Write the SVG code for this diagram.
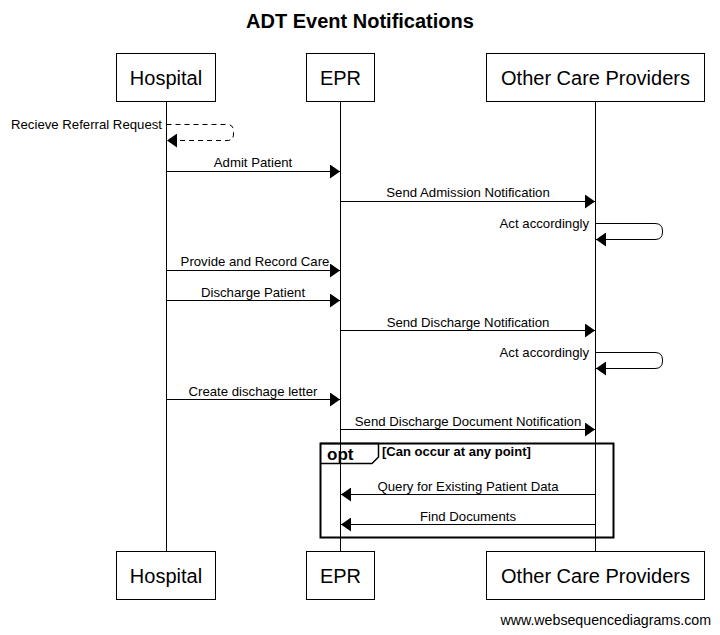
<svg xmlns="http://www.w3.org/2000/svg" width="720" height="635" viewBox="0 0 720 635">
<style>
.box{fill:#fff;stroke:#000;stroke-width:1}
.pt{font-family:"Liberation Sans",Arial,sans-serif;font-size:20px;text-anchor:middle}
.life{stroke:#000;stroke-width:1}
.msg{fill:none;stroke:#000;stroke-width:1}
.dash{stroke-dasharray:5,4}
.ml{font-family:"Liberation Sans",Arial,sans-serif;font-size:13.2px}
.c{text-anchor:middle}
.e{text-anchor:end}
</style>
<defs>
<marker id="ah" markerWidth="10" markerHeight="14" refX="10" refY="7" orient="auto" markerUnits="userSpaceOnUse">
<path d="M0,0 L10,7 L0,14 Z" fill="#000"/>
</marker>
</defs>
<rect width="720" height="635" fill="#fff"/>
<text x="360" y="28" font-family="Liberation Sans,Arial,sans-serif" font-size="20" font-weight="bold" text-anchor="middle">ADT Event Notifications</text>
<g id="lifelines">
<line class="life" x1="166.5" y1="102" x2="166.5" y2="551"/>
<line class="life" x1="340.5" y1="102" x2="340.5" y2="551"/>
<line class="life" x1="595.5" y1="102" x2="595.5" y2="551"/>
</g>
<g id="hospital">
<rect class="box" x="116.5" y="53.5" width="99" height="48"/>
<text class="pt" x="166" y="85">Hospital</text>
<rect class="box" x="116.5" y="551.5" width="99" height="48"/>
<text class="pt" x="166" y="583">Hospital</text>
</g>
<g id="epr">
<rect class="box" x="306.5" y="53.5" width="68" height="48"/>
<text class="pt" x="340.5" y="85">EPR</text>
<rect class="box" x="306.5" y="551.5" width="68" height="48"/>
<text class="pt" x="340.5" y="583">EPR</text>
</g>
<g id="ocp">
<rect class="box" x="486.5" y="53.5" width="218" height="48"/>
<text class="pt" x="595.5" y="85">Other Care Providers</text>
<rect class="box" x="486.5" y="551.5" width="218" height="48"/>
<text class="pt" x="595.5" y="583">Other Care Providers</text>
</g>
<g id="opt-frame">
<rect x="320.5" y="443.5" width="293" height="94" fill="none" stroke="#000" stroke-width="2"/>
<path d="M320.5,443.5 L378.5,443.5 L378.5,457 L372,463.5 L320.5,463.5" fill="none" stroke="#000" stroke-width="1.5"/>
<text x="327" y="460" font-family="Liberation Sans,Arial,sans-serif" font-size="17" font-weight="bold">opt</text>
<text x="382" y="456" font-family="Liberation Sans,Arial,sans-serif" font-size="13" font-weight="bold">[Can occur at any point]</text>
</g>
<g id="connectors">
<path class="msg dash" d="M166.5,124.5 L227,124.5 Q233.5,124.5 233.5,131 L233.5,134 Q233.5,140.5 227,140.5 L167,140.5" marker-end="url(#ah)"/>
<text class="ml e" x="162" y="129">Recieve Referral Request</text>
<line class="msg" x1="166.5" y1="171.5" x2="340" y2="171.5" marker-end="url(#ah)"/>
<text class="ml c" x="253" y="167">Admit Patient</text>
<line class="msg" x1="340.5" y1="201.5" x2="595" y2="201.5" marker-end="url(#ah)"/>
<text class="ml c" x="468" y="197">Send Admission Notification</text>
<path class="msg" d="M595.5,223.5 L655,223.5 Q662.5,223.5 662.5,231 L662.5,232 Q662.5,239.5 655,239.5 L596,239.5" marker-end="url(#ah)"/>
<text class="ml e" x="589" y="228">Act accordingly</text>
<line class="msg" x1="166.5" y1="270.5" x2="340" y2="270.5" marker-end="url(#ah)"/>
<text class="ml c" x="255" y="266">Provide and Record Care</text>
<line class="msg" x1="166.5" y1="300.5" x2="340" y2="300.5" marker-end="url(#ah)"/>
<text class="ml c" x="253" y="297">Discharge Patient</text>
<line class="msg" x1="340.5" y1="330.5" x2="595" y2="330.5" marker-end="url(#ah)"/>
<text class="ml c" x="468" y="327">Send Discharge Notification</text>
<path class="msg" d="M595.5,352.5 L655,352.5 Q662.5,352.5 662.5,360 L662.5,361 Q662.5,368.5 655,368.5 L596,368.5" marker-end="url(#ah)"/>
<text class="ml e" x="589" y="357">Act accordingly</text>
<line class="msg" x1="166.5" y1="399.5" x2="340" y2="399.5" marker-end="url(#ah)"/>
<text class="ml c" x="253" y="396">Create dischage letter</text>
<line class="msg" x1="340.5" y1="429.5" x2="595" y2="429.5" marker-end="url(#ah)"/>
<text class="ml c" x="468" y="426">Send Discharge Document Notification</text>
<line class="msg" x1="595.5" y1="494.5" x2="341" y2="494.5" marker-end="url(#ah)"/>
<text class="ml c" x="468" y="491">Query for Existing Patient Data</text>
<line class="msg" x1="595.5" y1="524.5" x2="341" y2="524.5" marker-end="url(#ah)"/>
<text class="ml c" x="468" y="521">Find Documents</text>
</g>
<text x="711" y="625" font-family="Liberation Sans,Arial,sans-serif" font-size="14.2" text-anchor="end">www.websequencediagrams.com</text>
</svg>
